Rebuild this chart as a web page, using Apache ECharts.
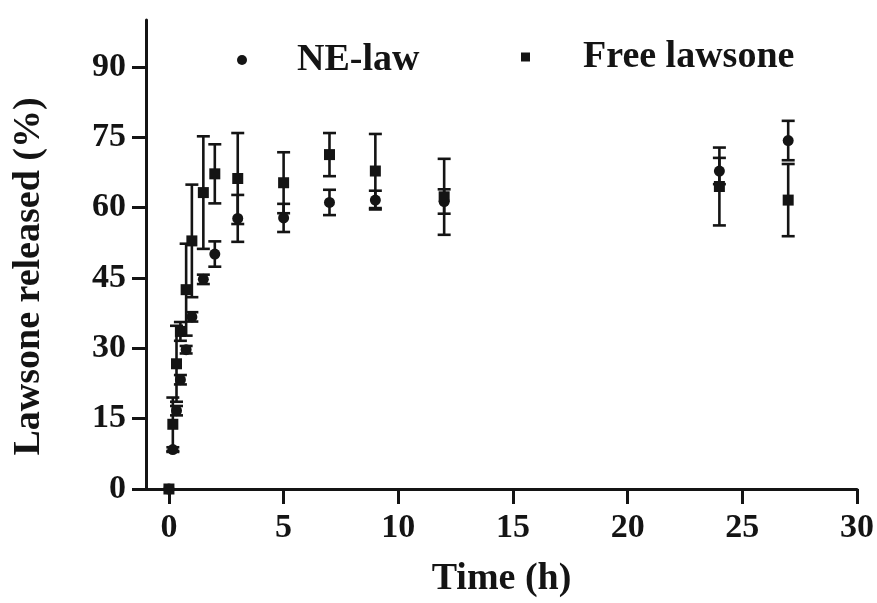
<!DOCTYPE html>
<html>
<head>
<meta charset="utf-8">
<script src="https://cdn.jsdelivr.net/npm/echarts@6/dist/echarts.min.js"></script>
<style>
html,body{margin:0;padding:0;background:#fff;}
#c{width:877px;height:603px;}
</style>
</head>
<body>
<div id="c"></div>
<script>
const timeH = [0, 0.17, 0.33, 0.5, 0.75, 1, 1.5, 2, 3, 5, 7, 9, 12, 24, 27];
const neLaw = [0, 8.4, 16.7, 23.3, 29.7, 36.7, 44.7, 50.1, 57.7, 57.8, 61.1, 61.6, 61.3, 67.8, 74.3];
const neLawSD = [0, 0.5, 1.0, 1.0, 0.8, 1.0, 1.0, 2.7, 5.0, 3.0, 2.7, 2.0, 2.6, 2.8, 4.2];
const freeLaw = [0, 13.8, 26.7, 33.6, 42.5, 52.9, 63.2, 67.2, 66.2, 65.3, 71.3, 67.8, 62.3, 64.5, 61.6];
const freeLawSD = [0, 5.7, 8.1, 2.0, 9.8, 12.0, 12.0, 6.3, 9.7, 6.5, 4.6, 7.9, 8.1, 8.3, 7.7];
const xTicks = [0, 5, 10, 15, 20, 25, 30];
const yTicks = [0, 15, 30, 45, 60, 75, 90];
const seriesNames = ['NE-law', 'Free lawsone'];

const INK = '#141414';
const FONT = "'Liberation Serif', 'Times New Roman', serif";

function pts(ys) { return timeH.map((t, i) => [t, ys[i]]); }
function errs(ys, sd) { return timeH.map((t, i) => [t, ys[i], sd[i]]); }

function renderErr(params, api) {
  const x = api.value(0), y = api.value(1), e = api.value(2);
  if (!e) return null;
  const top = api.coord([x, y + e]);
  const bot = api.coord([x, y - e]);
  const hw = 6.5;
  const st = { stroke: INK, lineWidth: 2.6 };
  return {
    type: 'group',
    children: [
      { type: 'line', shape: { x1: top[0], y1: top[1], x2: bot[0], y2: bot[1] }, style: st },
      { type: 'line', shape: { x1: top[0] - hw, y1: top[1], x2: top[0] + hw, y2: top[1] }, style: st },
      { type: 'line', shape: { x1: bot[0] - hw, y1: bot[1], x2: bot[0] + hw, y2: bot[1] }, style: st }
    ]
  };
}

const chart = echarts.init(document.getElementById('c'), null, { renderer: 'canvas' });
chart.setOption({
  backgroundColor: '#fff',
  animation: false,
  grid: { left: 146, right: 19, top: 20, bottom: 108, containLabel: false },
  legend: [
    {
      data: [{ name: seriesNames[0], icon: 'circle' }],
      left: 237, top: 41, padding: 0,
      itemWidth: 10, itemHeight: 10,
      itemStyle: { opacity: 1 },
      textStyle: { fontFamily: FONT, fontWeight: 'bold', fontSize: 38, color: INK, padding: [0, 0, 0, 45] }
    },
    {
      data: [{ name: seriesNames[1], icon: 'rect' }],
      left: 521, top: 38, padding: 0,
      itemWidth: 9, itemHeight: 9,
      itemStyle: { opacity: 1 },
      textStyle: { fontFamily: FONT, fontWeight: 'bold', fontSize: 38, color: INK, padding: [0, 0, 0, 48] }
    }
  ],
  xAxis: {
    type: 'value', min: -1, max: 30,
    name: 'Time (h)', nameLocation: 'middle', nameGap: 71,
    nameTextStyle: { fontFamily: FONT, fontWeight: 'bold', fontSize: 38, color: INK },
    axisLine: { show: true, onZero: false, lineStyle: { color: INK, width: 3 } },
    axisTick: { show: true, length: 15, customValues: xTicks, lineStyle: { color: INK, width: 3 } },
    axisLabel: { customValues: xTicks, margin: 22, fontFamily: FONT, fontWeight: 'bold', fontSize: 34, color: INK },
    splitLine: { show: false }
  },
  yAxis: {
    type: 'value', min: 0, max: 100,
    name: 'Lawsone released (%)', nameLocation: 'middle', nameGap: 98, nameRotate: 90,
    nameTextStyle: { fontFamily: FONT, fontWeight: 'bold', fontSize: 38, color: INK, padding: [0, 44, 0, 0] },
    axisLine: { show: true, onZero: false, lineStyle: { color: INK, width: 3 } },
    axisTick: { show: true, length: 14, customValues: yTicks, lineStyle: { color: INK, width: 3 } },
    axisLabel: { customValues: yTicks, margin: 20, fontFamily: FONT, fontWeight: 'bold', fontSize: 34, color: INK },
    splitLine: { show: false }
  },
  series: [
    {
      name: seriesNames[0] + ' SD', type: 'custom', renderItem: renderErr,
      data: errs(neLaw, neLawSD), encode: { x: 0, y: 1 }, z: 2, clip: false, silent: true
    },
    {
      name: seriesNames[1] + ' SD', type: 'custom', renderItem: renderErr,
      data: errs(freeLaw, freeLawSD), encode: { x: 0, y: 1 }, z: 2, clip: false, silent: true
    },
    {
      name: seriesNames[0], type: 'scatter', symbol: 'circle', symbolSize: 11,
      data: pts(neLaw), itemStyle: { color: INK, opacity: 1 }, z: 3, clip: false
    },
    {
      name: seriesNames[1], type: 'scatter', symbol: 'rect', symbolSize: 11,
      data: pts(freeLaw), itemStyle: { color: INK, opacity: 1 }, z: 3, clip: false
    }
  ]
});
</script>
</body>
</html>
